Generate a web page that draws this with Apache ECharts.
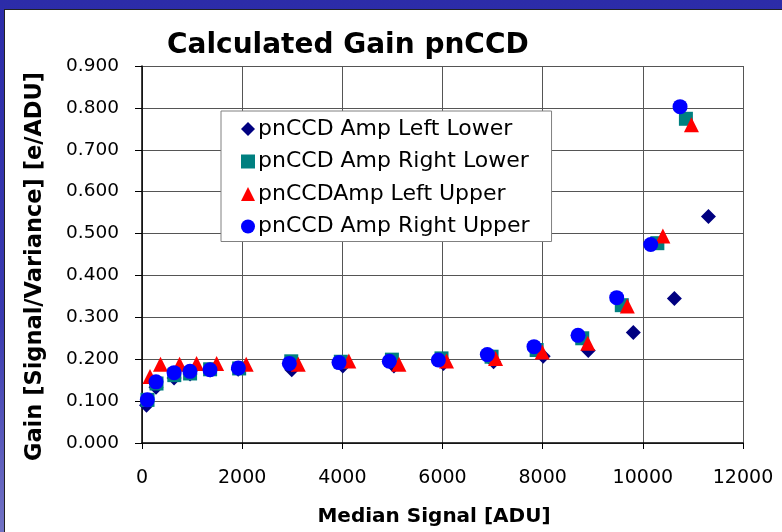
<!DOCTYPE html>
<html>
<head>
<meta charset="utf-8">
<script src="https://cdn.jsdelivr.net/npm/echarts@6/dist/echarts.min.js"></script>
<style>
html, body { margin: 0; padding: 0; width: 782px; height: 532px; overflow: hidden; }
body { background: linear-gradient(to bottom, #2c2ca8 0%, #3a3ab0 60%, #7272c4 100%); position: relative; }
#frame { position: absolute; left: 4px; top: 9px; width: 778px; height: 523px; background: #ffffff; border-left: 1px solid #222; border-top: 1px solid #222; box-sizing: border-box; }
#chart { position: absolute; left: 0; top: 0; width: 782px; height: 532px; }
</style>
</head>
<body>
<div id="frame"></div>
<div id="chart"></div>
<script>
// Series names
const seriesNames = ['pnCCD Amp Left Lower', 'pnCCD Amp Right Lower', 'pnCCDAmp Left Upper', 'pnCCD Amp Right Upper'];

// pnCCD Amp Left Lower (diamonds)
const llX = [90, 280, 640, 960, 1360, 1920, 2990, 4010, 5030, 6020, 7020, 8010, 8910, 9810, 10630, 11310];
const llY = [0.090, 0.133, 0.155, 0.165, 0.174, 0.176, 0.175, 0.184, 0.184, 0.190, 0.194, 0.207, 0.221, 0.264, 0.345, 0.541];

// pnCCD Amp Right Lower (squares)
const rlX = [110, 290, 645, 960, 1360, 1940, 2980, 3970, 4990, 5980, 6980, 7880, 8790, 9580, 10290, 10860];
const rlY = [0.103, 0.142, 0.162, 0.166, 0.176, 0.178, 0.195, 0.194, 0.199, 0.202, 0.206, 0.222, 0.250, 0.329, 0.477, 0.774];

// pnCCDAmp Left Upper (triangles)
const luX = [160, 370, 750, 1090, 1490, 2080, 3120, 4130, 5130, 6080, 7060, 7990, 8900, 9690, 10400, 10970];
const luY = [0.159, 0.188, 0.188, 0.190, 0.190, 0.188, 0.188, 0.196, 0.188, 0.196, 0.202, 0.217, 0.238, 0.327, 0.494, 0.760];

// pnCCD Amp Right Upper (circles)
const ruX = [106, 280, 640, 958, 1358, 1924, 2942, 3934, 4938, 5917, 6895, 7827, 8706, 9478, 10157, 10743];
const ruY = [0.103, 0.146, 0.168, 0.171, 0.175, 0.179, 0.190, 0.192, 0.195, 0.198, 0.211, 0.230, 0.257, 0.347, 0.474, 0.803];

// Axis ticks
const xTicks = [0, 2000, 4000, 6000, 8000, 10000, 12000];
const yTicks = [0, 0.1, 0.2, 0.3, 0.4, 0.5, 0.6, 0.7, 0.8, 0.9];

const pair = (xs, ys) => xs.map((x, i) => [x, ys[i]]);

const FONT = 'DejaVu Sans';
const chart = echarts.init(document.getElementById('chart'), null, { renderer: 'canvas' });

const mk = (i, symbol, size, color, xs, ys) => ({
  name: seriesNames[i],
  type: 'scatter',
  symbol: symbol,
  symbolSize: size,
  itemStyle: { color: color, opacity: 1 },
  emphasis: { disabled: true },
  data: pair(xs, ys),
  z: 2 + i
});

chart.setOption({
  animation: false,
  backgroundColor: 'transparent',
  title: {
    text: 'Calculated Gain pnCCD',
    left: 167,
    top: 32,
    padding: 0,
    textStyle: { fontFamily: FONT, fontWeight: 'bold', fontSize: 28, color: '#000' }
  },
  legend: {
    orient: 'vertical',
    left: 221,
    top: 111,
    padding: [7, 22, 4, 20],
    itemGap: 10.5,
    itemWidth: 14,
    itemHeight: 14,
    backgroundColor: '#ffffff',
    borderColor: '#808080',
    borderWidth: 1,
    borderRadius: 0,
    selectedMode: false,
    textStyle: { fontFamily: FONT, fontSize: 22, color: '#000', padding: [0, 0, 0, -2] },
    data: seriesNames
  },
  grid: { left: 142, right: 39, top: 66, bottom: 88, containLabel: false },
  xAxis: {
    type: 'value',
    min: 0, max: 12000, interval: 2000,
    name: 'Median Signal [ADU]',
    nameLocation: 'middle',
    nameGap: 64,
    nameTextStyle: { fontFamily: FONT, fontWeight: 'bold', fontSize: 20, color: '#000', padding: [0, 17, 0, 0] },
    axisLine: { show: true, onZero: false, lineStyle: { color: '#000', width: 1.5 } },
    axisTick: { show: true, inside: false, length: 6, lineStyle: { color: '#000' } },
    axisLabel: { margin: 26, fontFamily: FONT, fontSize: 19, color: '#000',
      formatter: v => xTicks.indexOf(v) >= 0 ? String(v) : '' },
    splitLine: { show: true, lineStyle: { color: '#555', width: 1 } }
  },
  yAxis: {
    type: 'value',
    min: 0, max: 0.9, interval: 0.1,
    name: 'Gain [Signal/Variance] [e/ADU]',
    nameLocation: 'middle',
    nameGap: 95,
    nameTextStyle: { fontFamily: FONT, fontWeight: 'bold', fontSize: 22.5, color: '#000', padding: [0, 24, 0, 0] },
    axisLine: { show: true, onZero: false, lineStyle: { color: '#000', width: 1.5 } },
    axisTick: { show: true, inside: false, length: 7, lineStyle: { color: '#000' } },
    axisLabel: { margin: 23, fontFamily: FONT, fontSize: 18.5, color: '#000',
      formatter: v => {
        const t = yTicks.find(k => Math.abs(k - v) < 1e-9);
        return t === undefined ? '' : t.toFixed(3);
      } },
    splitLine: { show: true, lineStyle: { color: '#555', width: 1 } }
  },
  series: [
    mk(0, 'diamond', 15, '#000080', llX, llY),
    mk(1, 'rect', 14, '#008080', rlX, rlY),
    mk(2, 'triangle', 15, '#ff0000', luX, luY),
    mk(3, 'circle', 15, '#0000ff', ruX, ruY)
  ]
});
</script>
</body>
</html>
